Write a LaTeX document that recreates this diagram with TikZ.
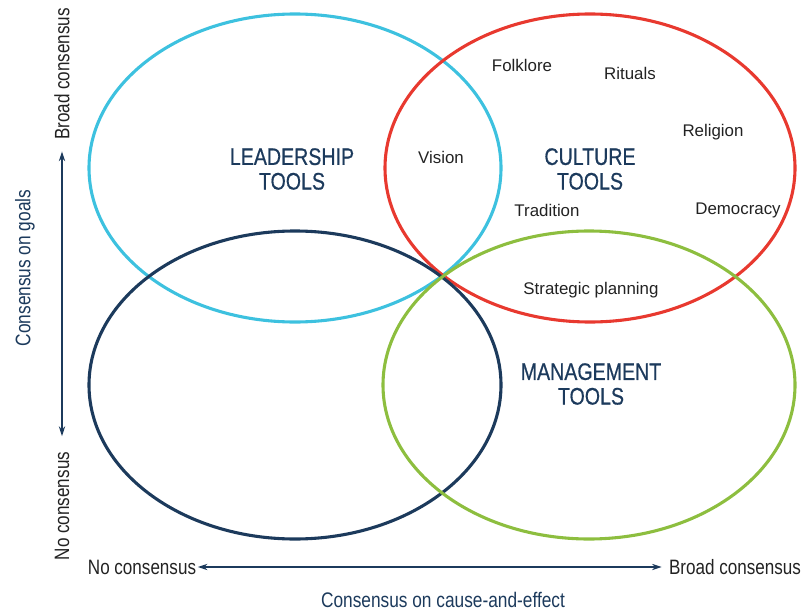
\documentclass[tikz,border=0pt]{standalone}
\usepackage{fontspec}
\setmainfont{Liberation Sans}
\newfontfamily\condfont[FakeStretch=0.82]{Liberation Sans}
\newfontfamily\titlefont[FakeStretch=0.82, FakeBold=0.6]{Liberation Sans}
\usetikzlibrary{arrows.meta}
\definecolor{leadcyan}{HTML}{3DC1DF}
\definecolor{culturered}{HTML}{E8392F}
\definecolor{mgmtgreen}{HTML}{8DBE3F}
\definecolor{darknavy}{HTML}{1C3A5C}
\definecolor{itemgray}{HTML}{222222}
\tikzset{
  ring/.style={line width=2.2pt},
  title/.style={text=darknavy, font=\titlefont\fontsize{17}{17.5}\selectfont, align=center, inner sep=0pt},
  item/.style={text=itemgray, font=\fontsize{12}{13}\selectfont, inner sep=0pt},
  axislabel/.style={text=itemgray, font=\condfont\fontsize{14.8}{15}\selectfont, inner sep=1pt},
  axistitle/.style={text=darknavy, font=\condfont\fontsize{15}{15}\selectfont, inner sep=0pt},
  axisarrow/.style={darknavy, line width=0.9pt, {Stealth[length=7pt,width=4.5pt]}-{Stealth[length=7pt,width=4.5pt]}}
}
\begin{document}
\begin{tikzpicture}[x=0.025cm, y=0.025cm]
		\useasboundingbox (0,0) rectangle (802,-611);
		% the four tool areas
		\draw[ring, leadcyan] (295,-168) ellipse (206 and 154);
		\draw[ring, culturered] (590,-168) ellipse (205 and 154);
		\draw[ring, darknavy] (295,-385) ellipse (206 and 154);
		\draw[ring, mgmtgreen] (589,-385) ellipse (206 and 154);
		% titles
		\node[title] (leadership) at (292,-169) {LEADERSHIP\\TOOLS};
		\node[title] (culture) at (590,-169) {CULTURE\\TOOLS};
		\node[title] (management) at (591,-384) {MANAGEMENT\\TOOLS};
		% tools
		\node[item] (vision) at (441,-157) {Vision};
		\node[item] (folklore) at (522,-65) {Folklore};
		\node[item] (rituals) at (630,-73) {Rituals};
		\node[item] (religion) at (713,-132) {Religion};
		\node[item] (tradition) at (547,-210) {Tradition};
		\node[item] (democracy) at (738,-210) {Democracy};
		\node[item] (planning) at (591,-290) {Strategic planning};
		% axes
		\node[axislabel, rotate=90] (goalbroad) at (62,-74) {Broad consensus};
		\node[axislabel, rotate=90] (goalnone) at (62,-506) {No consensus};
		\node[axistitle, rotate=90] (goals) at (25,-268) {Consensus on goals};
		\draw[axisarrow, shorten <=10pt, shorten >=7pt] (goalnone.east) -- (goalbroad.west);
		\node[axislabel] (causenone) at (142,-567) {No consensus};
		\node[axislabel] (causebroad) at (735,-567) {Broad consensus};
		\node[axistitle] (cause) at (443,-600) {Consensus on cause-and-effect};
		\draw[axisarrow, shorten >=4pt] (causenone.east) -- (causebroad.west);
\end{tikzpicture}
\end{document}
